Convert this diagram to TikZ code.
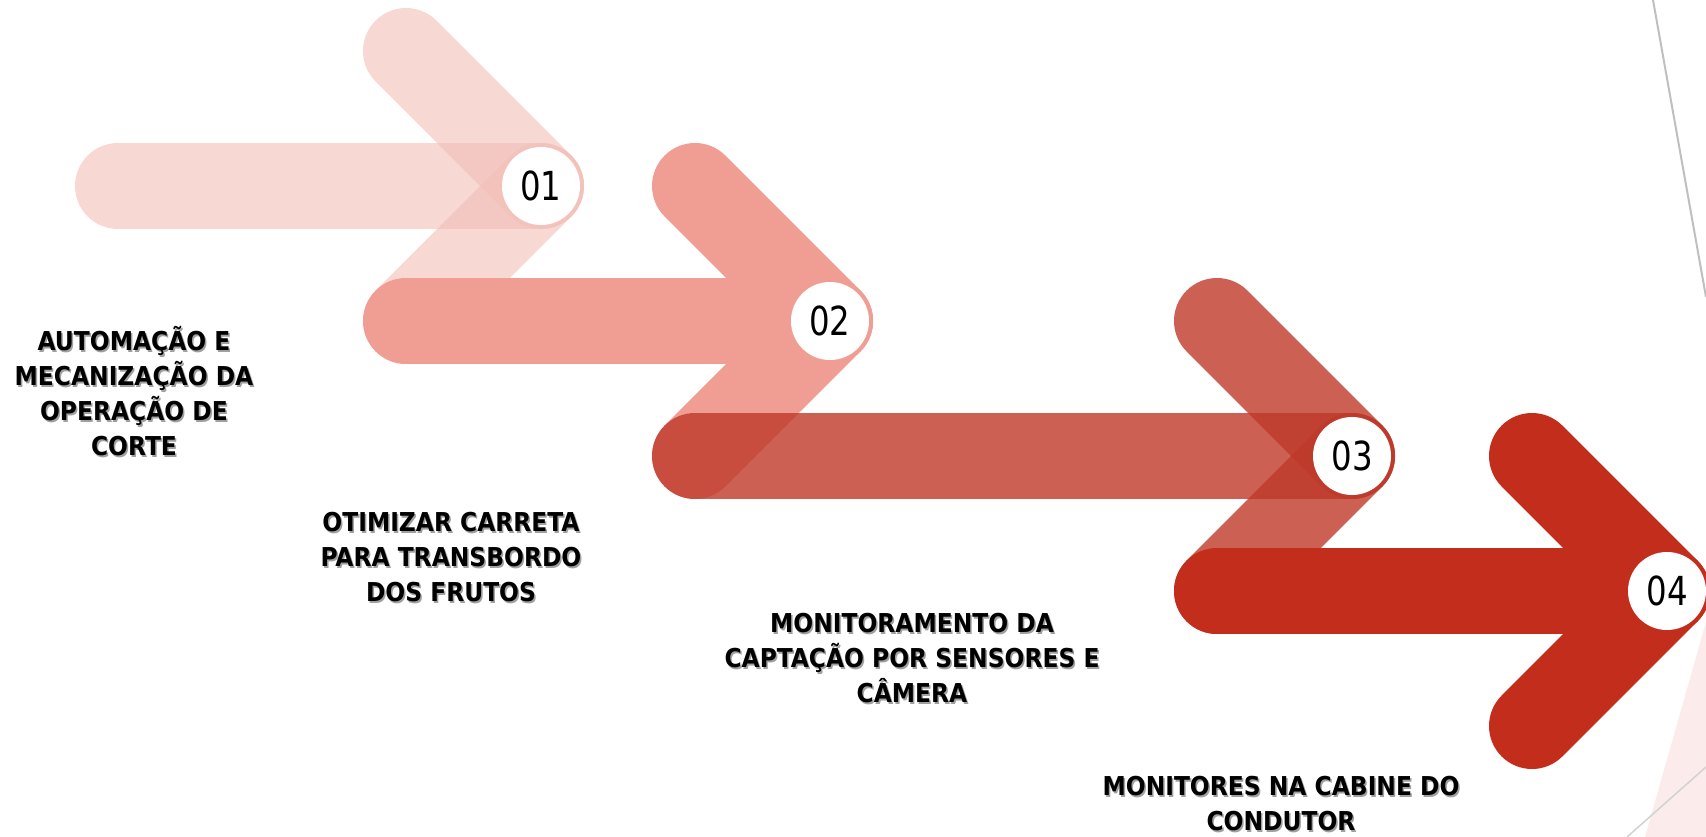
\documentclass[tikz,border=0pt]{standalone}
\usepackage{fontspec}
\setmainfont{DejaVu Sans Condensed}
\newfontfamily\numfont{DejaVu Sans Condensed}[FakeStretch=0.9]
\usetikzlibrary{positioning}
\definecolor{StepOne}{RGB}{243,190,183}
\definecolor{StepTwo}{RGB}{240,158,148}
\definecolor{StepThree}{RGB}{190,57,41}
\definecolor{StepFour}{RGB}{195,46,28}
\definecolor{SlideGrey}{RGB}{191,191,191}
\definecolor{SlidePink}{RGB}{251,236,235}
\definecolor{ShadowGrey}{RGB}{160,160,160}
\newcommand{\shline}[1]{\strut\makebox[0pt][l]{\hspace{1.5pt}\raisebox{-1.5pt}{\textcolor{ShadowGrey}{#1}}}#1}
\tikzset{
  band/.style={line width=86pt,line cap=round},
  badge/.style={circle,fill=white,minimum size=78pt,inner sep=0pt,
    font=\numfont\fontsize{40}{40}\selectfont},
  caption/.style={anchor=north,align=center,inner sep=0pt,
    font=\bfseries\fontsize{26}{35}\selectfont}
}
\begin{document}
\begin{tikzpicture}[x=1pt,y=-1pt]
  \useasboundingbox (0,0) rectangle (1706,837);
  \fill[white] (0,0) rectangle (1706,837);
  % slide decoration
  \fill[SlidePink] (1706,622) -- (1645,837) -- (1706,837) -- cycle;
  \draw[SlideGrey,line width=2pt] (1653,0) -- (1706,297);
  \draw[SlideGrey!70,line width=1.5pt] (1627,837) -- (1706,767);
  % the four arrows
  \foreach \tx/\bx/\y/\col/\op [count=\i] in
    {541/118/186/StepOne/0.6, 830/406/321/StepTwo/1,
     1352/695/456/StepThree/0.8, 1667/1217/591/StepFour/1}{
    \coordinate (tip\i) at (\tx,\y);
    \coordinate (tail\i) at (\bx,\y);
    \coordinate (up\i) at (\tx-135,\y-135);
    \coordinate (down\i) at (\tx-135,\y+135);
    \draw[band,draw=\col,draw opacity=\op] (tail\i) -- (tip\i);
    \draw[band,draw=\col,draw opacity=\op] (up\i) -- (tip\i);
    \draw[band,draw=\col,draw opacity=\op] (down\i) -- (tip\i);
  }
  \foreach \i in {1,...,4}
    \node[badge] (num\i) at (tip\i) {0\i};
  % captions
  \node[caption] (cut) at (134,326)
    {\shline{AUTOMAÇÃO E}\\\shline{MECANIZAÇÃO DA}\\\shline{OPERAÇÃO DE}\\\shline{CORTE}};
  \node[caption] (cart) at (451,507)
    {\shline{OTIMIZAR CARRETA}\\\shline{PARA TRANSBORDO}\\\shline{DOS FRUTOS}};
  \node[caption] (sensors) at (912,608)
    {\shline{MONITORAMENTO DA}\\\shline{CAPTAÇÃO POR SENSORES E}\\\shline{CÂMERA}};
  \node[caption] (cabin) at (1281,771)
    {\shline{MONITORES NA CABINE DO}\\\shline{CONDUTOR}};
\end{tikzpicture}
\end{document}
